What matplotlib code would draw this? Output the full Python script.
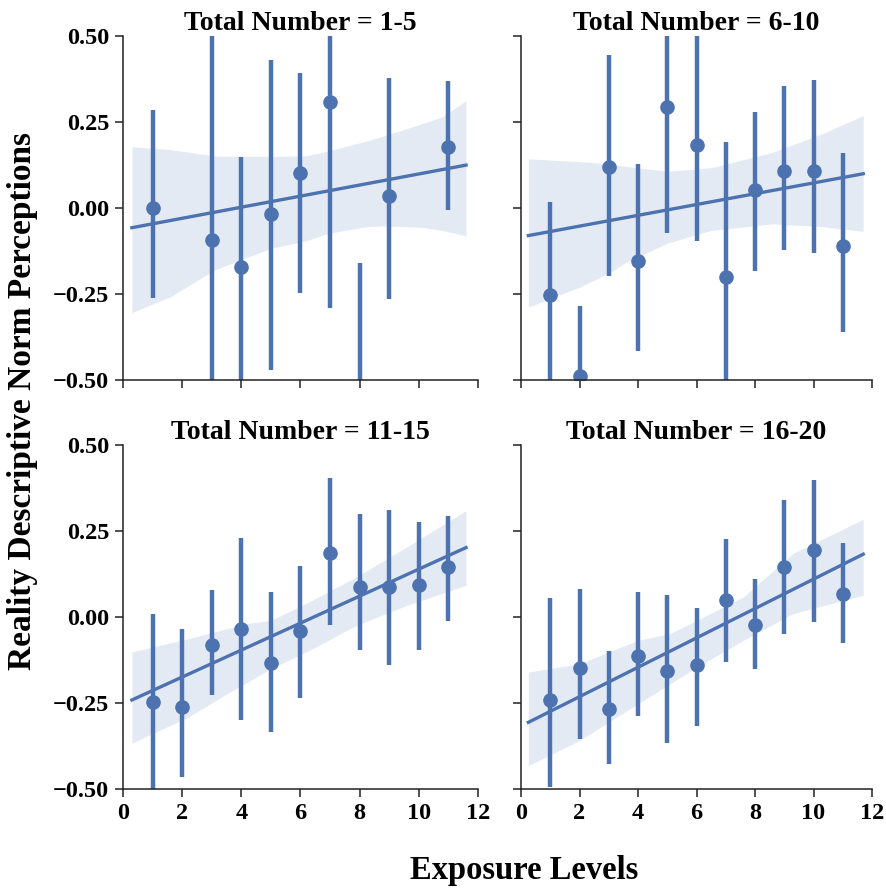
import matplotlib
matplotlib.use("Agg")
import matplotlib.pyplot as plt
import numpy as np

plt.rcParams['font.family'] = ['Liberation Serif', 'DejaVu Serif']
plt.rcParams['font.weight'] = 'bold'

BLUE = '#4c72b0'

titles = ['Total Number = 1-5', 'Total Number = 6-10',
          'Total Number = 11-15', 'Total Number = 16-20']

# binned means with 95% CI for each panel
x_1_5 = [1, 3, 4, 5, 6, 7, 8, 9, 11]
y_1_5 = [0.0, -0.093, -0.17, -0.016, 0.103, 0.309, -0.60, 0.036, 0.176]
lo_1_5 = [-0.262, -0.68, -0.55, -0.471, -0.248, -0.292, -1.0, -0.265, -0.006]
hi_1_5 = [0.285, 0.60, 0.149, 0.43, 0.393, 0.60, -0.161, 0.377, 0.370]

x_6_10 = [1, 2, 3, 4, 5, 6, 7, 8, 9, 10, 11]
y_6_10 = [-0.254, -0.489, 0.119, -0.155, 0.293, 0.182, -0.201, 0.053, 0.109, 0.109, -0.109]
lo_6_10 = [-0.55, -0.70, -0.199, -0.416, -0.072, -0.097, -0.58, -0.182, -0.121, -0.131, -0.361]
hi_6_10 = [0.017, -0.286, 0.446, 0.128, 0.58, 0.52, 0.191, 0.28, 0.354, 0.373, 0.160]

x_11_15 = [1, 2, 3, 4, 5, 6, 7, 8, 9, 10, 11]
y_11_15 = [-0.248, -0.262, -0.081, -0.036, -0.133, -0.042, 0.186, 0.087, 0.087, 0.094, 0.146]
lo_11_15 = [-0.51, -0.466, -0.228, -0.298, -0.335, -0.235, -0.024, -0.097, -0.141, -0.095, -0.013]
hi_11_15 = [0.010, -0.034, 0.078, 0.230, 0.073, 0.148, 0.403, 0.299, 0.311, 0.277, 0.294]

x_16_20 = [1, 2, 3, 4, 5, 6, 7, 8, 9, 10, 11]
y_16_20 = [-0.241, -0.147, -0.267, -0.112, -0.158, -0.141, 0.049, -0.024, 0.146, 0.194, 0.068]
lo_16_20 = [-0.495, -0.354, -0.427, -0.289, -0.366, -0.316, -0.131, -0.150, -0.048, -0.016, -0.076]
hi_16_20 = [0.054, 0.081, -0.100, 0.073, 0.063, 0.027, 0.228, 0.109, 0.340, 0.398, 0.214]

# linear fit (intercept, slope) and its x span
fit_intercept = [-0.062, -0.084, -0.253, -0.317]
fit_slope = [0.0161, 0.0157, 0.0392, 0.0427]
fit_span = [(0.3, 11.6), (0.25, 11.7), (0.3, 11.6), (0.25, 11.7)]

# bootstrap CI band of the fit
band_x_1_5 = [0.3, 1.6, 3.1, 5.0, 6.2, 6.9, 8.25, 8.8, 10.1, 10.8, 11.6]
band_lo_1_5 = [-0.304, -0.258, -0.18, -0.117, -0.095, -0.074, -0.054, -0.052, -0.056, -0.065, -0.081]
band_hi_1_5 = [0.178, 0.170, 0.151, 0.150, 0.152, 0.165, 0.195, 0.209, 0.245, 0.265, 0.312]

band_x_6_10 = [0.25, 2.0, 3.1, 3.5, 5.0, 6.5, 8.6, 10.3, 11.7]
band_lo_6_10 = [-0.288, -0.230, -0.185, -0.162, -0.102, -0.065, -0.046, -0.054, -0.068]
band_hi_6_10 = [0.143, 0.135, 0.128, 0.122, 0.107, 0.117, 0.162, 0.216, 0.269]

band_x_11_15 = [0.3, 2.2, 3.7, 4.0, 5.0, 6.3, 7.9, 9.6, 11.6]
band_lo_11_15 = [-0.367, -0.291, -0.214, -0.200, -0.150, -0.097, -0.024, 0.034, 0.092]
band_hi_11_15 = [-0.102, -0.063, -0.030, -0.021, -0.010, 0.044, 0.117, 0.204, 0.309]

band_x_16_20 = [0.25, 2.0, 4.0, 5.1, 6.0, 7.6, 9.3, 11.7]
band_lo_16_20 = [-0.432, -0.359, -0.252, -0.194, -0.146, -0.068, 0.010, 0.063]
band_hi_16_20 = [-0.160, -0.136, -0.068, -0.048, -0.010, 0.058, 0.185, 0.284]

panels = [
    (x_1_5, y_1_5, lo_1_5, hi_1_5, band_x_1_5, band_lo_1_5, band_hi_1_5),
    (x_6_10, y_6_10, lo_6_10, hi_6_10, band_x_6_10, band_lo_6_10, band_hi_6_10),
    (x_11_15, y_11_15, lo_11_15, hi_11_15, band_x_11_15, band_lo_11_15, band_hi_11_15),
    (x_16_20, y_16_20, lo_16_20, hi_16_20, band_x_16_20, band_lo_16_20, band_hi_16_20),
]

fig = plt.figure(figsize=(8.87, 8.90), dpi=100)
rects = [
    [0.1387, 0.5730, 0.4000, 0.3865],
    [0.5874, 0.5730, 0.3957, 0.3865],
    [0.1387, 0.1135, 0.4000, 0.3865],
    [0.5874, 0.1135, 0.3957, 0.3865],
]

for i, (px, py, plo, phi, bx, blo, bhi) in enumerate(panels):
    ax = fig.add_axes(rects[i])
    px = np.array(px)
    py = np.array(py)
    yerr = [py - np.array(plo), np.array(phi) - py]

    ax.fill_between(bx, blo, bhi, color=BLUE, alpha=0.15, linewidth=0)
    lx = np.array(fit_span[i])
    ax.plot(lx, fit_intercept[i] + fit_slope[i] * lx, color=BLUE, lw=2.4)
    ax.errorbar(px, py, yerr=yerr, fmt='o', color=BLUE, ms=9.5,
                elinewidth=3.2, capsize=0)

    ax.set_xlim(0, 12)
    ax.set_ylim(-0.5, 0.5)
    ax.set_xticks(range(0, 13, 2))
    ax.set_yticks([-0.5, -0.25, 0, 0.25, 0.5])
    ax.set_yticklabels(['\u22120.50', '\u22120.25', '0.00', '0.25', '0.50'])
    for side in ['top', 'right']:
        ax.spines[side].set_visible(False)
    for side in ['left', 'bottom']:
        ax.spines[side].set_color('#222222')
        ax.spines[side].set_linewidth(1.1)
    ax.tick_params(direction='out', length=6, width=1.1, color='#222222',
                   labelsize=17.5, pad=4)
    if i in (0, 1):
        ax.tick_params(labelbottom=False)
    if i in (1, 3):
        ax.tick_params(labelleft=False)
    ax.set_title(titles[i], fontsize=20, fontweight='bold', pad=3)

fig.text(0.025, 0.549, 'Reality Descriptive Norm Perceptions', rotation=90,
         ha='center', va='center', fontsize=24, fontweight='bold')
fig.text(0.591, 0.022, 'Exposure Levels', ha='center', va='center',
         fontsize=23.5, fontweight='bold')

fig.savefig('out.png', dpi=100)
